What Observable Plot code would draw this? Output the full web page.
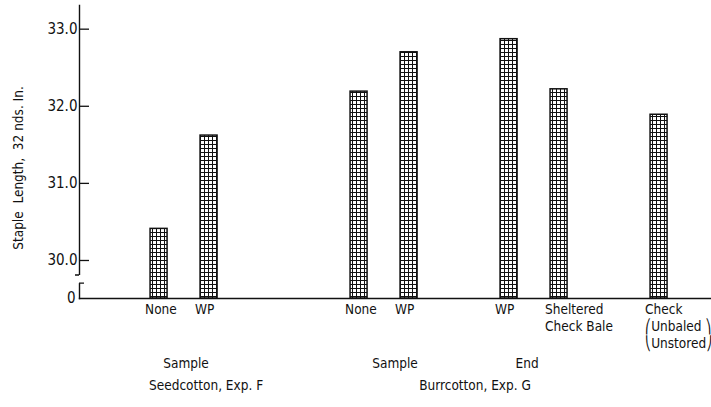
<!DOCTYPE html>
<html>
<head>
<meta charset="utf-8">
<script src="https://cdn.jsdelivr.net/npm/d3@7"></script>
<script src="https://cdn.jsdelivr.net/npm/@observablehq/plot@0.6"></script>
<style>
  html, body { margin: 0; padding: 0; background: #fff; }
  #chart svg { font-family: "DejaVu Sans Condensed", "DejaVu Sans", sans-serif; font-stretch: condensed; }
</style>
</head>
<body>
<div id="chart"></div>
<script>
// ---- data ----
const slots = ["F-None", "F-WP", "gap1", "gap2", "G-None", "G-WP", "gap3", "G-WPend", "G-Sheltered", "gap4", "G-Check"];
const barSlots = ["F-None", "F-WP", "G-None", "G-WP", "G-WPend", "G-Sheltered", "G-Check"];
const staple = [30.41, 31.62, 32.19, 32.70, 32.87, 32.22, 31.89];
const tickText = ["None", "WP", "None", "WP", "WP", "Sheltered\nCheck Bale", "Check\n⎛Unbaled ⎞\n⎝Unstored⎠"];
const yTicks = [30, 31, 32, 33];
const yBase = 29.507;          // axis origin, labelled "0" (broken axis)
const yTop = 33.307;
const yLabel = "Staple  Length,  32 nds. In.";
const groupRow1 = ["Sample", "Sample", "End"];
const groupRow1Slots = ["F-None", "G-None", "G-WPend"];
const groupRow2 = ["Seedcotton, Exp. F", "Burrcotton, Exp. G"];
const groupRow2Slots = ["F-WP", "gap3"];

const bars = barSlots.map((s, i) => ({slot: s, value: staple[i]}));
const labelOf = new Map(barSlots.map((s, i) => [s, tickText[i]]));

const W = 711, ML = 79, MR = 0, TICK = 10, INK = "#111";

const plot = Plot.plot({
  width: W,
  height: 407,
  marginLeft: ML,
  marginRight: MR,
  marginTop: 5,
  marginBottom: 109,
  style: {fontSize: "13px", color: INK},
  x: {type: "band", domain: slots, paddingInner: 0.66, paddingOuter: 1.15, align: 0.618, round: false, axis: null},
  y: {domain: [yBase, yTop], axis: null},
  marks: [
    Plot.barY(bars, {x: "slot", y1: yBase, y2: "value", fill: "url(#grid)", stroke: INK, strokeWidth: 1.5}),
    Plot.frame({anchor: "left", stroke: INK, strokeWidth: 1.4}),
    Plot.frame({anchor: "bottom", stroke: INK, strokeWidth: 1.4}),
    // y ticks pointing inward
    Plot.ruleY(yTicks, {insetRight: W - ML - MR - TICK, stroke: INK, strokeWidth: 1.3}),
    Plot.axisY({ticks: yTicks, tickSize: 0, tickPadding: 2, tickFormat: d3.format(".1f"), fontSize: 15, fill: INK, label: null}),
    Plot.axisY({ticks: [yBase], tickSize: 0, tickPadding: 4, tickFormat: () => "0", fontSize: 15, fill: INK, label: null}),
    // x labels
    Plot.axisX({ticks: barSlots, tickSize: 0, tickPadding: 4, tickFormat: (d) => labelOf.get(d) ?? "", textAnchor: "start", dx: -14, lineHeight: 1.24, fontSize: 13.5, fill: INK, label: null}),
    // group labels
    Plot.text([groupRow1[0]], {x: [groupRow1Slots[0]], frameAnchor: "bottom", dy: 69, dx: 27, fontSize: 13.5, fill: INK}),
    Plot.text([groupRow1[1]], {x: [groupRow1Slots[1]], frameAnchor: "bottom", dy: 69, dx: 36, fontSize: 13.5, fill: INK}),
    Plot.text([groupRow1[2]], {x: [groupRow1Slots[2]], frameAnchor: "bottom", dy: 69, dx: 18, fontSize: 13.5, fill: INK}),
    Plot.text([groupRow2[0]], {x: [groupRow2Slots[0]], frameAnchor: "bottom", dy: 91, dx: -3, fontSize: 13.5, fill: INK}),
    Plot.text([groupRow2[1]], {x: [groupRow2Slots[1]], frameAnchor: "bottom", dy: 91, dx: 16, fontSize: 13.5, fill: INK}),
    // y label
    Plot.text([yLabel], {frameAnchor: "left", textAnchor: "middle", rotate: -90, dx: -61, dy: 16, fontSize: 13.5, fill: INK})
  ]
});

// hatch pattern for bars
const svg = d3.select(plot);
const defs = svg.insert("defs", ":first-child");
const pat = defs.append("pattern").attr("id", "grid").attr("patternUnits", "userSpaceOnUse")
  .attr("width", 4).attr("height", 4);
pat.append("rect").attr("width", 4).attr("height", 4).attr("fill", "#fff");
pat.append("path").attr("d", "M0,0.5H4M0.5,0V4").attr("stroke", INK).attr("stroke-width", 1);

// axis break drawn through the y scale
const ys = plot.scale("y");
const yb1 = ys.apply(29.805), yb2 = ys.apply(29.70);
const g = svg.append("g");
g.append("rect").attr("x", ML - 2).attr("width", 4).attr("y", yb1).attr("height", yb2 - yb1).attr("fill", "#fff");
g.append("path").attr("d", `M${ML},${yb1}H${ML - 4}M${ML},${yb2}H${ML + 5}`)
  .attr("stroke", INK).attr("stroke-width", 1.4).attr("fill", "none");

document.getElementById("chart").append(plot);
</script>
</body>
</html>
